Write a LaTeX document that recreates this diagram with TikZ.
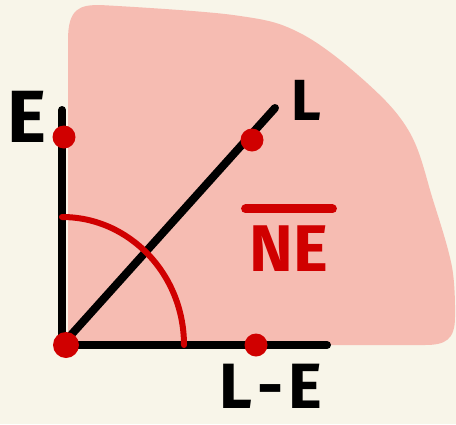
\documentclass[tikz,border=0pt]{standalone}
\usepackage{fontspec}
\setmainfont{Fira Sans}
\definecolor{bgc}{HTML}{F8F5E9}
\definecolor{pinkc}{HTML}{F6BCB2}
\definecolor{redc}{HTML}{D00000}
\tikzset{
  axis/.style={line width=8pt, black, line cap=round},
  dot/.style={circle, fill=redc, inner sep=0pt, minimum size=#1},
  lab/.style={font=\fontsize{68}{68}\selectfont\bfseries, text=black, inner sep=0pt},
}
\begin{document}
\begin{tikzpicture}[x=1pt,y=-1pt]
\useasboundingbox (0,0) rectangle (456,424);
\fill[bgc] (0,0) rectangle (456,424);
% pink region
\fill[pinkc] (68,345) -- (68,40) .. controls (68,8) and (80,5) .. (100,5)
  -- plot[smooth, tension=0.6] coordinates {(100,5) (233,15) (300,33) (367,83) (410,133) (433,200) (452,267) (455,317)}
  .. controls (455,340) and (445,345) .. (425,345) -- cycle;
% coordinates
\coordinate (O) at (62,345);
\coordinate (Ytop) at (62,110);
\coordinate (Xend) at (327,345);
\coordinate (Dend) at (275,108);
\coordinate (ArcS) at (62,217);
% axes
\draw[axis] (O) -- (Ytop);
\draw[axis] (O) -- (Xend);
\draw[axis] (O) -- (Dend);
% arc
\draw[redc, line width=6pt, line cap=round] (ArcS) arc[start angle=90, end angle=0, x radius=122, y radius=-128] coordinate (ArcE);
% dots
\node[dot=23pt] (dE) at (64,137) {};
\node[dot=26pt] (dO) at (66,345) {};
\node[dot=23pt] (dL) at (252,140) {};
\node[dot=23pt] (dLE) at (256,345) {};
% labels
\node[lab, font=\fontsize{74}{74}\selectfont\bfseries] (tE) at (27,117) {E};
\node[lab, font=\fontsize{58}{58}\selectfont\bfseries] (tL) at (306,100) {L};
\node[lab, font=\fontsize{64}{64}\selectfont\bfseries] (tLE) at (271,386) {L\kern5pt-\kern5pt E};
\node[lab, text=redc, font=\fontsize{66}{66}\selectfont\bfseries] (tNE) at (289,249) {NE};
\draw[redc, line width=9pt, line cap=round] ([xshift=-4pt,yshift=17pt]tNE.north west) -- ([xshift=4pt,yshift=17pt]tNE.north east);
\end{tikzpicture}
\end{document}
